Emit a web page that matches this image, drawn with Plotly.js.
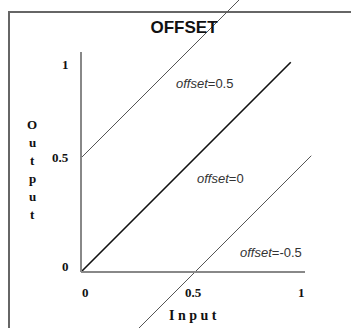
<!DOCTYPE html>
<html><head><meta charset="utf-8">
<script src="https://cdn.plot.ly/plotly-3.0.1.min.js"></script>
<style>html,body{margin:0;padding:0;background:#fff}</style>
</head><body><div id="chart" style="width:351px;height:328px"></div>
<script>
// data
const offsets = [0.5, 0, -0.5];
const lineX = [[0, 0.8], [0, 0.92], [0.2, 1.01]];
const lineY = [[0.5, 1.3], [0, 0.92], [-0.3, 0.51]];
const offsetLabels = ['offset=0.5', 'offset=0', 'offset=-0.5'];
const tickVals = [0, 0.5, 1];
const tickText = ['0', '0.5', '1'];
const xTitle = 'I n p u t';
const yTitleLetters = ['O', 'u', 't', 'p', 'u', 't'];
const titleText = 'OFFSET';

// layout geometry (pixels -> data)
const W = 351, H = 328, ox = 81, oy = 272, unit = 228;
const xr = [-ox / unit, (W - ox) / unit];
const yr = [-(H - oy) / unit, oy / unit];
const px2x = p => (p - ox) / unit;
const py2y = p => (oy - p) / unit;

const lineStyles = [
  {color: '#555', width: 1},
  {color: '#111', width: 1.6},
  {color: '#555', width: 1}
];
const traces = offsets.map((o, i) => ({
  x: lineX[i], y: lineY[i], mode: 'lines', type: 'scatter',
  line: lineStyles[i], hoverinfo: 'skip', showlegend: false, cliponaxis: true
}));

const serifBold = {family: 'Liberation Serif', size: 13, color: '#111', weight: 'bold'};
const ann = [];
const labelPos = [[204.5, 83], [220.5, 178], [270.5, 252]];
offsetLabels.forEach((t, i) => {
  const parts = t.split('=');
  ann.push({x: px2x(labelPos[i][0]), y: py2y(labelPos[i][1]), text: '<i>' + parts[0] + '</i>=' + parts[1],
    showarrow: false, xanchor: 'center', yanchor: 'middle',
    font: {family: 'Liberation Sans', size: 13, color: '#333'}});
});
const xTickShift = [4, -2, -8];
tickVals.forEach((v, i) => {
  ann.push({x: v, y: 0, text: '<b>' + tickText[i] + '</b>', showarrow: false,
    xanchor: 'center', yanchor: 'middle', xshift: xTickShift[i], yshift: -20, font: serifBold});
});
const yTickShift = [6, 1, -20];
tickVals.forEach((v, i) => {
  ann.push({x: 0, y: v, text: '<b>' + tickText[i] + '</b>', showarrow: false,
    xanchor: 'right', yanchor: 'middle', xshift: -10, yshift: yTickShift[i], font: serifBold});
});
ann.push({x: px2x(193), y: py2y(315), text: '<b>' + xTitle + '</b>', showarrow: false,
  xanchor: 'center', yanchor: 'middle', font: Object.assign({}, serifBold, {size: 14})});
yTitleLetters.forEach((l, i) => {
  ann.push({x: px2x(32), y: py2y(124 + i * 18), text: '<b>' + l + '</b>', showarrow: false,
    xanchor: 'center', yanchor: 'middle', font: serifBold});
});

const shapes = [
  {type: 'line', xref: 'x', yref: 'y', x0: 0, y0: 0, x1: 0, y1: py2y(52), line: {color: '#888', width: 2}},
  {type: 'line', xref: 'x', yref: 'y', x0: 0, y0: 0, x1: px2x(305), y1: 0, line: {color: '#888', width: 2}},
  {type: 'rect', xref: 'paper', yref: 'paper', x0: 9 / W, y0: -0.1, x1: 1.1, y1: 1 - 12 / H,
    line: {color: '#666', width: 2}, layer: 'below'}
];

const layout = {
  width: W, height: H, margin: {l: 0, r: 0, t: 0, b: 0},
  paper_bgcolor: '#fff', plot_bgcolor: '#fff',
  xaxis: {range: xr, visible: false, fixedrange: true},
  yaxis: {range: yr, visible: false, fixedrange: true},
  title: {text: '<b>' + titleText + '</b>', x: 184 / W, y: 1 - 27 / H, xanchor: 'center', yanchor: 'middle',
    font: {family: 'Liberation Sans', size: 17, color: '#111'}},
  annotations: ann, shapes: shapes, showlegend: false
};
Plotly.newPlot('chart', traces, layout, {staticPlot: true, displayModeBar: false});
</script></body></html>
